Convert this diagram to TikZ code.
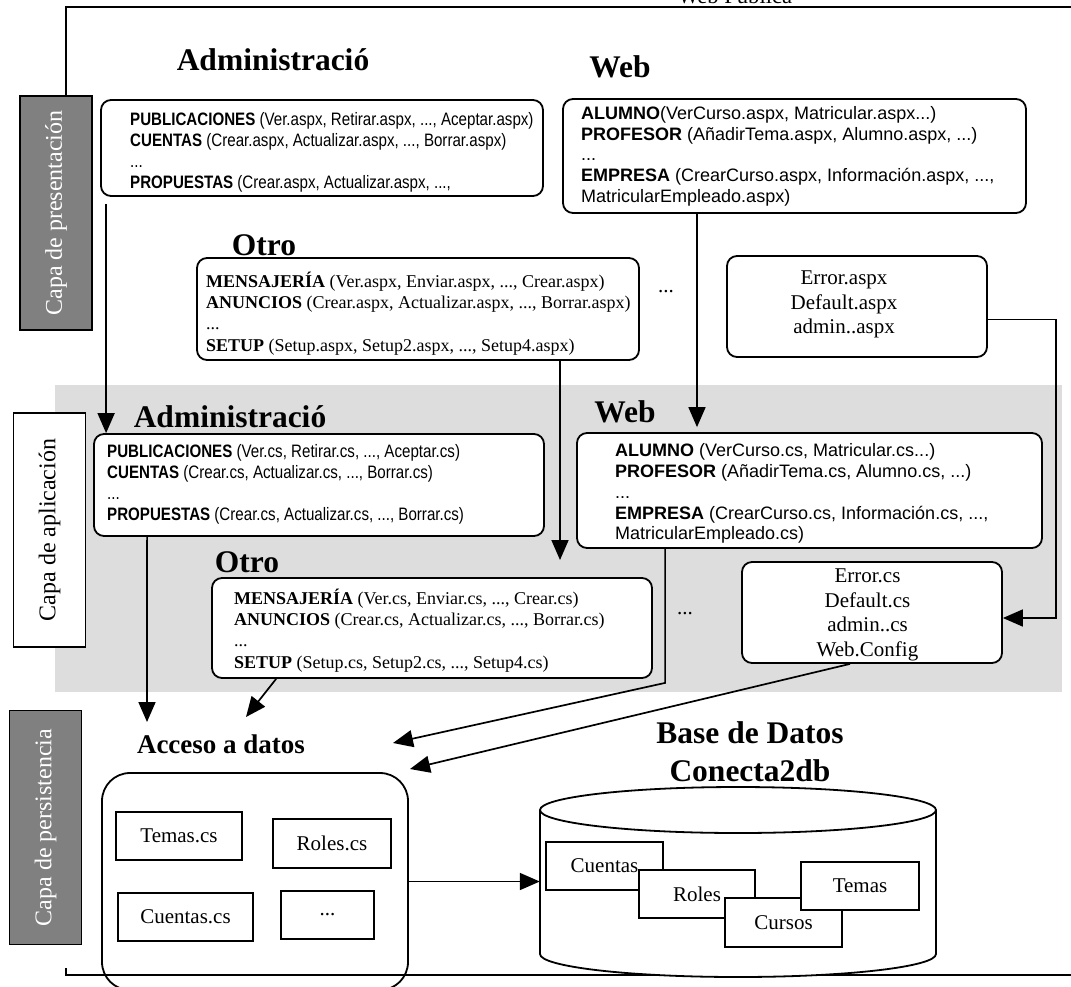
\documentclass[tikz,border=0pt]{standalone}
\usepackage{fontspec}
\setmainfont{Liberation Serif}
\newfontfamily\arialf{Liberation Sans}
\newfontfamily\arialn[FakeStretch=0.84]{Liberation Sans}
\usetikzlibrary{arrows.meta}
\definecolor{grisOscuro}{RGB}{128,128,128}
\definecolor{grisBanda}{RGB}{221,221,221}
\tikzset{
  linea/.style={line width=1.8pt},
  caja/.style={draw,line width=1.8pt,rounded corners=10pt,fill=white,inner sep=0pt},
  capa/.style={draw,line width=1.6pt,rotate=90,minimum width=234pt,minimum height=72pt,inner sep=0pt,font=\fontsize{24}{28}\selectfont},
  clase/.style={draw,line width=1.6pt,fill=white,inner sep=0pt,font=\fontsize{21}{24}\selectfont}
}
\begin{document}
\begin{tikzpicture}[x=1pt,y=-1pt,
  flecha/.style={line width=1.7pt,-{Triangle[length=20pt,width=17pt]}},
  titulo/.style={anchor=base,inner sep=0pt,font=\bfseries\fontsize{31.5}{38}\selectfont},
  txtAdm/.style={anchor=north west,align=left,inner sep=0pt,font=\arialn\fontsize{18}{21}\selectfont},
  txtWeb/.style={anchor=north west,align=left,inner sep=0pt,font=\arialf\fontsize{18}{20.8}\selectfont},
  txtOtro/.style={anchor=north west,align=left,inner sep=0pt,font=\fontsize{18}{21.3}\selectfont},
  txtErr/.style={anchor=north,align=center,inner sep=0pt,font=\fontsize{21}{24.6}\selectfont}]
\useasboundingbox (0,0) rectangle (1071,986);
\fill[grisBanda] (55,385) rectangle (1062,692);
\node[anchor=base,inner sep=0pt,font=\fontsize{22.6}{26}\selectfont] (webPub) at (735,3) {Web Pública};
\node[capa,fill=grisOscuro,text=white] (capaPres) at (56,213) {Capa de presentación};
\node[capa,fill=white] (capaApl) at (49.5,530) {Capa de aplicación};
\node[capa,fill=grisOscuro,text=white] (capaPers) at (45.5,827.5) {Capa de persistencia};
\draw[linea] ([xshift=10pt]capaPres.east) |- (1071,7);
\draw[linea] (66,968) |- (1071,975);

\node[titulo] (admTit1) at (273,70) {Administració};
\node[titulo] (webTit1) at (620,77) {Web};
\node[titulo] (otroTit1) at (264,255) {Otro};
\node[titulo] (admTit2) at (230,427) {Administració};
\node[titulo] (webTit2) at (625,422) {Web};
\node[titulo] (otroTit2) at (247,572) {Otro};
\node[titulo,font=\bfseries\fontsize{27}{32}\selectfont] (accTit) at (221,753) {Acceso a datos};
\node[titulo,anchor=north,align=center,font=\bfseries\fontsize{31.5}{38}\selectfont] (bdTit) at (750,721) {Base de Datos\\Conecta2db};

\node[caja,minimum width=442pt,minimum height=96pt] (adm1) at (322,148) {};
\node[txtAdm] (adm1t) at (130,112) {\textbf{PUBLICACIONES} (Ver.aspx, Retirar.aspx, ..., Aceptar.aspx)\\\textbf{CUENTAS} (Crear.aspx, Actualizar.aspx, ..., Borrar.aspx)\\...\\\textbf{PROPUESTAS} (Crear.aspx, Actualizar.aspx, ...,};
\node[caja,minimum width=463pt,minimum height=114pt] (web1) at (794.5,156) {};
\node[txtWeb] (web1t) at (581,106) {\textbf{ALUMNO}(VerCurso.aspx, Matricular.aspx...)\\\textbf{PROFESOR} (AñadirTema.aspx, Alumno.aspx, ...)\\...\\\textbf{EMPRESA} (CrearCurso.aspx, Información.aspx, ...,\\MatricularEmpleado.aspx)};
\node[caja,minimum width=442pt,minimum height=102pt] (otro1) at (418,309) {};
\node[txtOtro] (otro1t) at (206,271.5) {\textbf{MENSAJERÍA} (Ver.aspx, Enviar.aspx, ..., Crear.aspx)\\\textbf{ANUNCIOS} (Crear.aspx, Actualizar.aspx, ..., Borrar.aspx)\\...\\\textbf{SETUP} (Setup.aspx, Setup2.aspx, ..., Setup4.aspx)};
\node[anchor=base,font=\fontsize{21}{24}\selectfont] (dots1) at (666,292) {...};
\node[caja,minimum width=260pt,minimum height=101pt] (err1) at (857,306.5) {};
\node[txtErr] (err1t) at (844,270.5) {Error.aspx\\Default.aspx\\admin..aspx};

\node[caja,minimum width=450pt,minimum height=102pt] (adm2) at (319,485) {};
\node[txtAdm] (adm2t) at (107,444) {\textbf{PUBLICACIONES} (Ver.cs, Retirar.cs, ..., Aceptar.cs)\\\textbf{CUENTAS} (Crear.cs, Actualizar.cs, ..., Borrar.cs)\\...\\\textbf{PROPUESTAS} (Crear.cs, Actualizar.cs, ..., Borrar.cs)};
\node[caja,minimum width=465pt,minimum height=115pt] (web2) at (809.5,490.5) {};
\node[txtWeb] (web2t) at (615,443.5) {\textbf{ALUMNO} (VerCurso.cs, Matricular.cs...)\\\textbf{PROFESOR} (AñadirTema.cs, Alumno.cs, ...)\\...\\\textbf{EMPRESA} (CrearCurso.cs, Información.cs, ...,\\MatricularEmpleado.cs)};
\node[caja,minimum width=440pt,minimum height=100pt] (otro2) at (432,628) {};
\node[txtOtro] (otro2t) at (234,588.5) {\textbf{MENSAJERÍA} (Ver.cs, Enviar.cs, ..., Crear.cs)\\\textbf{ANUNCIOS} (Crear.cs, Actualizar.cs, ..., Borrar.cs)\\...\\\textbf{SETUP} (Setup.cs, Setup2.cs, ..., Setup4.cs)};
\node[anchor=base,font=\fontsize{21}{24}\selectfont] (dots2) at (685,614) {...};
\node[caja,minimum width=260pt,minimum height=101pt] (err2) at (872,612.5) {};
\node[txtErr] (err2t) at (867.5,568.5) {Error.cs\\Default.cs\\admin..cs\\Web.Config};

\node[draw,line width=1.8pt,rounded corners=28pt,minimum width=306pt,minimum height=217pt] (acc) at (255,881.5) {};
\node[clase,minimum width=126pt,minimum height=48pt] (accTemas) at (179,836) {Temas.cs};
\node[clase,minimum width=118pt,minimum height=49pt] (accRoles) at (332,843.5) {Roles.cs};
\node[clase,minimum width=135pt,minimum height=48pt] (accCuentas) at (185.5,917) {Cuentas.cs};
\node[clase,minimum width=93pt,minimum height=48pt] (accOtros) at (327.5,915) {...};

\node[minimum width=396pt,minimum height=190pt,inner sep=0pt] (bd) at (738,882) {};
\draw[linea,fill=white] (540,810) -- (540,954) arc[start angle=180,end angle=360,x radius=198pt,y radius=23pt] -- (936,810);
\draw[linea,fill=white] (738,810) ellipse[x radius=198pt,y radius=23pt];
\node[clase,minimum width=117pt,minimum height=48pt] (dbCuentas) at (604.5,866) {Cuentas};
\node[clase,minimum width=116pt,minimum height=48pt] (dbRoles) at (697,894) {Roles};
\node[clase,minimum width=117pt,minimum height=49pt] (dbCursos) at (783.5,922.5) {Cursos};
\node[clase,minimum width=118pt,minimum height=48pt] (dbTemas) at (860,886) {Temas};

\coordinate (a1) at ([xshift=6pt,yshift=-7pt]adm1.south west);
\coordinate (w1) at ([xshift=-97.5pt]web1.south);
\coordinate (o1) at ([xshift=142pt]otro1.south);
\coordinate (o1f) at (560,560);
\coordinate (a2) at ([xshift=54pt]adm2.south west);
\coordinate (pA) at (147,722);
\coordinate (pB) at (246,717);
\coordinate (pC) at (393,743);
\coordinate (pD) at (410,769);
\draw[flecha] (a1) -- (a1 |- adm2.north);
\draw[flecha] (w1) -- ([yshift=5pt]w1 |- web2.north);
\draw[flecha] (o1) -- (o1f);
\draw[flecha] ([yshift=-13pt]err1.east) -- ++(68,0) |- ([yshift=-5.5pt]err2.east);
\draw[flecha] (a2) -- (pA);
\draw[flecha] ([xshift=65pt]otro2.south west) -- (pB);
\draw[flecha] ([xshift=89pt]web2.south west) -- ++(0,134) -- (pC);
\draw[flecha] ([xshift=-22pt]err2.south) -- (pD);
\draw[flecha] (acc.east) -- (acc.east -| bd.west);
\end{tikzpicture}
\end{document}
